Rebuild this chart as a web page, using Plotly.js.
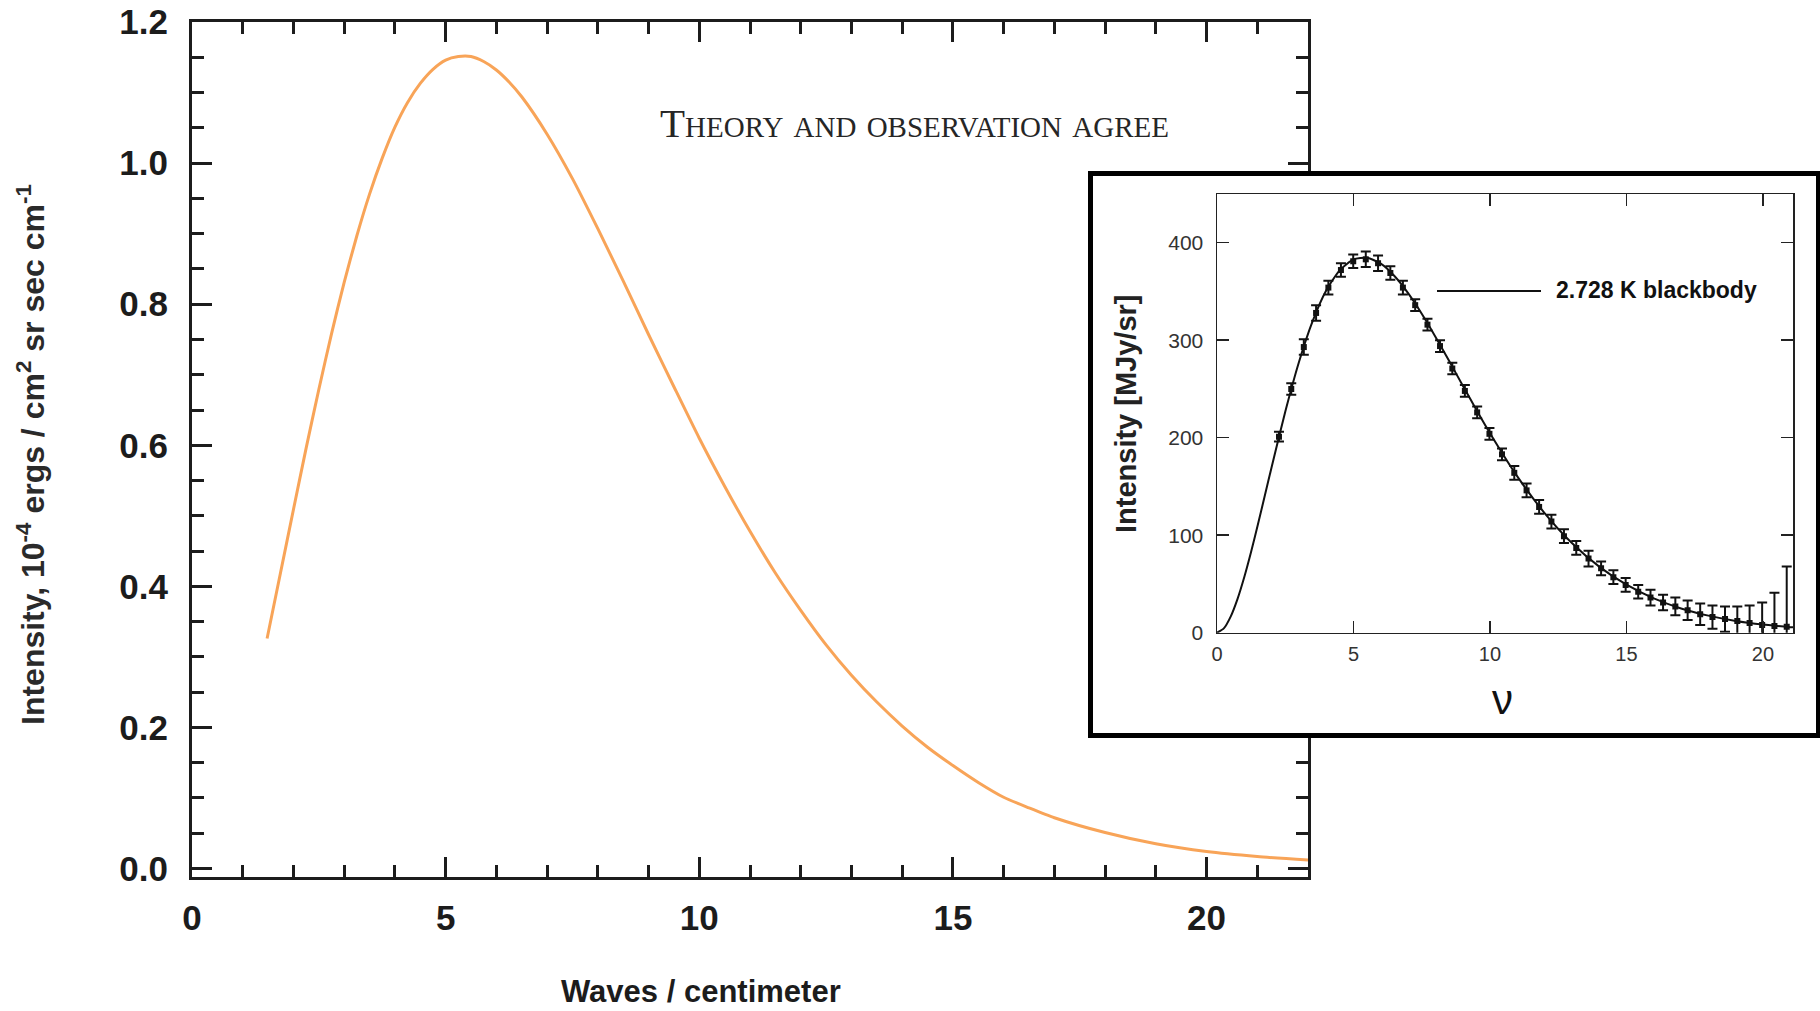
<!DOCTYPE html>
<html>
<head>
<meta charset="utf-8">
<script src="https://cdn.plot.ly/plotly-3.0.1.min.js"></script>
<style>
html,body{margin:0;padding:0;background:#ffffff;}
#chart{width:1820px;height:1011px;}
</style>
</head>
<body>
<div id="chart"></div>
<script>
// ---- Main chart: intensity vs waves per centimeter ----
const waveNumber = [1.48, 1.75, 2.0, 2.25, 2.5, 2.75, 3.0, 3.25, 3.5, 3.75, 4.0, 4.25, 4.5, 4.75, 5.0, 5.25, 5.5, 5.75, 6.0, 6.25, 6.5, 7.0, 7.5, 8.0, 8.5, 9.0, 9.5, 10.0, 10.5, 11.0, 11.5, 12.0, 12.5, 13.0, 13.5, 14.0, 14.5, 15.0, 15.5, 16.0, 16.5, 17.0, 18.0, 19.0, 20.0, 21.0, 22.0];
const intensity  = [0.326, 0.421, 0.509, 0.596, 0.679, 0.758, 0.831, 0.897, 0.956, 1.007, 1.051, 1.086, 1.113, 1.133, 1.146, 1.151, 1.151, 1.144, 1.132, 1.115, 1.094, 1.041, 0.978, 0.907, 0.833, 0.757, 0.683, 0.610, 0.542, 0.478, 0.419, 0.366, 0.317, 0.274, 0.236, 0.202, 0.172, 0.146, 0.122, 0.101, 0.086, 0.072, 0.051, 0.035, 0.024, 0.017, 0.012];

// ---- Inset: FIRAS-style measurements with error bars ----
const insetNu  = [2.27, 2.72, 3.18, 3.63, 4.08, 4.54, 4.99, 5.45, 5.90, 6.35, 6.81, 7.26, 7.71, 8.17, 8.62, 9.08, 9.53, 9.98, 10.44, 10.89, 11.34, 11.80, 12.25, 12.71, 13.16, 13.61, 14.07, 14.52, 14.97, 15.43, 15.88, 16.34, 16.79, 17.24, 17.70, 18.15, 18.61, 19.06, 19.51, 19.97, 20.42, 20.87];
const insetI   = [201, 250, 293, 328, 354, 372, 381, 383, 379, 369, 354, 336, 316, 294, 271, 248, 226, 204, 183, 164, 146, 129, 114, 99, 87, 76, 66, 57, 49, 42, 36, 31, 27, 23, 19, 16, 14, 12, 10, 8, 7, 6];
const insetErr = [5, 6, 8, 8, 7, 7, 7, 8, 8, 7, 7, 6, 6, 6, 6, 6, 6, 6, 6, 7, 7, 7, 7, 7, 7, 8, 7, 7, 7, 7, 8, 8, 9, 10, 11, 12, 13, 15, 18, 23, 34, 62];

// ---- Inset: 2.728 K blackbody curve ----
const bbNu = [0, 0.25, 0.5, 0.75, 1, 1.25, 1.5, 1.75, 2, 2.5, 3, 3.5, 4, 4.5, 5, 5.5, 6, 6.5, 7, 7.5, 8, 8.5, 9, 9.5, 10, 11, 12, 13, 14, 15, 16, 17, 18, 19, 20, 21, 21.1];
const bbI  = [0, 4.4, 16.5, 34.5, 57.2, 83.1, 111.2, 140.4, 169.8, 226.7, 277.5, 319.3, 351.0, 371.9, 382.9, 384.6, 378.5, 365.9, 348.3, 327.2, 303.7, 278.9, 253.6, 228.7, 204.6, 160.3, 122.7, 92.0, 67.8, 49.2, 35.2, 24.9, 17.5, 12.1, 8.4, 5.7, 5.5];

// ---- Tick values ----
const mainXTicks = [0, 5, 10, 15, 20];
const mainYTicks = [0.0, 0.2, 0.4, 0.6, 0.8, 1.0, 1.2];
const insetXTicks = [0, 5, 10, 15, 20];
const insetYTicks = [0, 100, 200, 300, 400];

const W = 1820, H = 1011;
const fx = p => p / W;
const fy = p => 1 - p / H;

const SANS = 'Liberation Sans, Arial, Helvetica, sans-serif';
const SERIF = 'Liberation Serif, Times New Roman, serif';
const INK = '#1c1c1c';

const traces = [
  {
    x: waveNumber, y: intensity, xaxis: 'x', yaxis: 'y',
    type: 'scatter', mode: 'lines',
    line: {color: '#F8A458', width: 3, shape: 'spline', smoothing: 0.6},
    hoverinfo: 'skip'
  },
  {
    x: [null], y: [null], xaxis: 'x2', yaxis: 'y2',
    type: 'scatter', mode: 'lines', hoverinfo: 'skip'
  },
  {
    x: bbNu, y: bbI, xaxis: 'x3', yaxis: 'y3',
    type: 'scatter', mode: 'lines',
    line: {color: '#111111', width: 2, shape: 'spline', smoothing: 0.6},
    hoverinfo: 'skip'
  },
  {
    x: insetNu, y: insetI, xaxis: 'x3', yaxis: 'y3',
    type: 'scatter', mode: 'markers',
    marker: {symbol: 'square', size: 6, color: '#111111'},
    error_y: {type: 'data', array: insetErr, visible: true, color: '#111111', thickness: 2, width: 5},
    hoverinfo: 'skip'
  }
];

const layout = {
  width: W, height: H,
  margin: {l: 0, r: 0, t: 0, b: 0, pad: 0},
  paper_bgcolor: '#ffffff',
  plot_bgcolor: '#ffffff',
  showlegend: false,
  font: {family: SANS, size: 20, color: INK},
  xaxis: {
    domain: [fx(192), fx(1308)], range: [0, 22], anchor: 'y',
    tickmode: 'array', tickvals: mainXTicks, ticktext: mainXTicks.map(String),
    ticks: 'inside', ticklen: 20, tickwidth: 3, tickcolor: INK,
    minor: {dtick: 1, tick0: 0, ticks: 'inside', ticklen: 12, tickwidth: 3, tickcolor: INK, showgrid: false},
    showline: true, linecolor: INK, linewidth: 3, mirror: 'ticks',
    showgrid: false, zeroline: false,
    tickfont: {family: SANS, size: 35, color: INK, weight: 700},
    ticklabelstandoff: 8
  },
  yaxis: {
    domain: [fy(877), fy(22)], range: [-0.012, 1.2], anchor: 'x',
    tickmode: 'array', tickvals: mainYTicks, ticktext: mainYTicks.map(v => v.toFixed(1)),
    ticks: 'inside', ticklen: 20, tickwidth: 3, tickcolor: INK,
    minor: {dtick: 0.05, tick0: 0, ticks: 'inside', ticklen: 12, tickwidth: 3, tickcolor: INK, showgrid: false},
    showline: true, linecolor: INK, linewidth: 3, mirror: 'ticks',
    showgrid: false, zeroline: false,
    tickfont: {family: SANS, size: 35, color: INK, weight: 700},
    ticklabelstandoff: 14
  },
  xaxis2: {
    domain: [fx(1093), fx(1816)], range: [0, 1], anchor: 'y2',
    showline: true, linecolor: '#000000', linewidth: 5, mirror: true,
    ticks: '', showticklabels: false, showgrid: false, zeroline: false
  },
  yaxis2: {
    domain: [fy(733), fy(176)], range: [0, 1], anchor: 'x2',
    showline: true, linecolor: '#000000', linewidth: 5, mirror: true,
    ticks: '', showticklabels: false, showgrid: false, zeroline: false
  },
  xaxis3: {
    domain: [fx(1217), fx(1793)], range: [0, 21.1], anchor: 'y3',
    tickmode: 'array', tickvals: insetXTicks, ticktext: insetXTicks.map(String),
    ticks: 'inside', ticklen: 12, tickwidth: 1.5, tickcolor: '#222',
    showline: true, linecolor: '#222', linewidth: 1.5, mirror: 'ticks',
    showgrid: false, zeroline: false,
    tickfont: {family: SANS, size: 20, color: '#333'},
    ticklabelstandoff: 3
  },
  yaxis3: {
    domain: [fy(632.7), fy(194)], range: [0, 450], anchor: 'x3',
    tickmode: 'array', tickvals: insetYTicks, ticktext: insetYTicks.map(String),
    ticks: 'inside', ticklen: 12, tickwidth: 1.5, tickcolor: '#222',
    showline: true, linecolor: '#222', linewidth: 1.5, mirror: 'ticks',
    showgrid: false, zeroline: false,
    tickfont: {family: SANS, size: 21, color: '#333'},
    ticklabelstandoff: 8
  },
  shapes: [
    {type: 'line', xref: 'paper', yref: 'paper',
     x0: fx(1437), x1: fx(1541), y0: fy(291), y1: fy(291),
     line: {color: '#111', width: 2}, layer: 'above'}
  ],
  annotations: [
    {text: 'Theory and observation agree', xref: 'paper', yref: 'paper',
     x: fx(914), y: fy(123), xanchor: 'center', yanchor: 'middle', showarrow: false,
     font: {family: SERIF, size: 41, color: '#262626', variant: 'small-caps'}},
    {text: 'Waves / centimeter', xref: 'paper', yref: 'paper',
     x: fx(701), y: fy(991), xanchor: 'center', yanchor: 'middle', showarrow: false,
     font: {family: SANS, size: 31, color: INK, weight: 700}},
    {text: 'Intensity, 10<sup>-4</sup> ergs / cm<sup>2</sup> sr sec cm<sup>-1</sup>', xref: 'paper', yref: 'paper',
     x: fx(31), y: fy(455), xanchor: 'center', yanchor: 'middle', textangle: -90, showarrow: false,
     font: {family: SANS, size: 32, color: '#2a2a2a', weight: 700}},
    {text: 'Intensity [MJy/sr]', xref: 'paper', yref: 'paper',
     x: fx(1126), y: fy(414), xanchor: 'center', yanchor: 'middle', textangle: -90, showarrow: false,
     font: {family: SANS, size: 29, color: '#222', weight: 700}},
    {text: '\u03bd', xref: 'paper', yref: 'paper',
     x: fx(1502), y: fy(699), xanchor: 'center', yanchor: 'middle', showarrow: false,
     font: {family: SANS, size: 42, color: '#111'}},
    {text: '2.728 K blackbody', xref: 'paper', yref: 'paper',
     x: fx(1554), y: fy(290), xanchor: 'left', yanchor: 'middle', showarrow: false,
     font: {family: SANS, size: 23, color: '#111', weight: 700}}
  ]
};

Plotly.newPlot('chart', traces, layout, {staticPlot: true, displayModeBar: false});
</script>
</body>
</html>
